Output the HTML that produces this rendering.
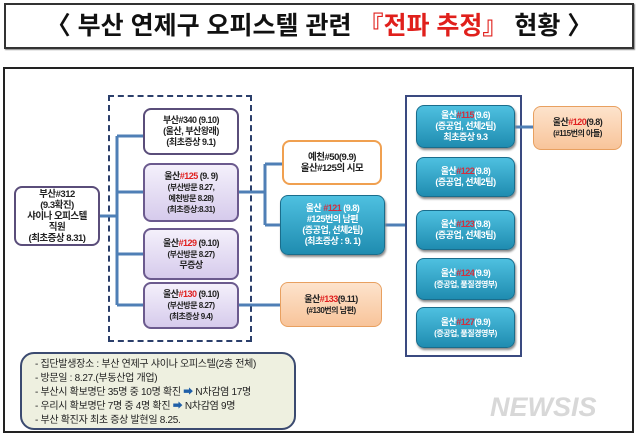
<!DOCTYPE html>
<html><head><meta charset="utf-8"><style>
*{margin:0;padding:0;box-sizing:border-box}
body{width:640px;height:435px;background:#fff;position:relative;overflow:hidden;font-family:"Liberation Sans","Noto Sans CJK KR","NanumGothic",sans-serif;}
.a{position:absolute}
.box{position:absolute;display:flex;justify-content:center;align-items:center;text-align:center;font-size:9px;line-height:11px;font-weight:bold;border-radius:8px;letter-spacing:-0.5px;white-space:nowrap}
.w{background:#fff;border:2px solid #5a4d7a;color:#222}
.p{background:linear-gradient(#f4f0fb,#d6cbec);border:2px solid #6b5a8e;color:#222}
.t{background:linear-gradient(#4ec0e0,#1f8cb0);border:1px solid #1a6d8c;color:#fff;box-shadow:1px 2px 2px #888}
.o{background:linear-gradient(#fde3cc,#f8c49a);border:1px solid #e8a060;color:#222}
.ow{background:#fff;border:2px solid #f0a050;color:#222}
.r{color:#e02020}
.tr{color:#d03040}
.s{font-size:8px}
</style></head><body>
<div class="a" style="left:4px;top:3px;width:630px;height:46px;border:2px solid #333;box-shadow:1px 1px 1px #888;font-size:25px;font-weight:bold;text-align:center;line-height:42px;color:#111;white-space:nowrap">〈 부산 연제구 오피스텔 관련 <span style="color:#e0201c">『전파 추정』</span> 현황 〉</div>
<div class="a" style="left:3px;top:67px;width:631px;height:366px;border:2px solid #222"></div>
<div class="a" style="left:108px;top:95px;width:144px;height:247px;border:2px dashed #2b3f6b"></div>
<div class="a" style="left:405px;top:95px;width:117px;height:262px;border:2px solid #3a4a80"></div>
<svg class="a" style="left:0;top:0" width="640" height="435">
<g stroke="#4f7fb6" stroke-width="3" fill="none">
<line x1="100" y1="216" x2="117" y2="216"/>
<line x1="117" y1="136" x2="117" y2="305"/>
<line x1="117" y1="136" x2="143" y2="136"/>
<line x1="117" y1="192" x2="143" y2="192"/>
<line x1="117" y1="254" x2="143" y2="254"/>
<line x1="117" y1="305" x2="143" y2="305"/>
<line x1="239" y1="192" x2="265" y2="192"/>
<line x1="265" y1="164" x2="265" y2="225"/>
<line x1="265" y1="164" x2="282" y2="164"/>
<line x1="265" y1="225" x2="280" y2="225"/>
<line x1="385" y1="225" x2="405" y2="225"/>
<line x1="239" y1="305" x2="280" y2="305"/>
<line x1="515" y1="127" x2="533" y2="127"/>
</g></svg>
<div class="box w" style="left:14px;top:186px;width:86px;height:60px;font-size:9.5px"><div>부산#312<br>(9.3확진)<br>샤이나 오피스텔<br>직원<br>(최초증상 8.31)</div></div>
<div class="box w" style="left:143px;top:108px;width:96px;height:47px"><div>부산#340 (9.10)<br>(울산, 부산왕래)<br>(최초증상 9.1)</div></div>
<div class="box p" style="left:143px;top:163px;width:96px;height:59px"><div>울산<span class="r">#125</span> (9. 9)<br><span class="s">(부산방문 8.27,<br>예천방문 8.28)<br>(최초증상:8.31)</span></div></div>
<div class="box p" style="left:143px;top:228px;width:96px;height:52px"><div>울산<span class="r">#129</span> (9.10)<br><span class="s">(부산방문 8.27)</span><br>무증상</div></div>
<div class="box p" style="left:143px;top:282px;width:96px;height:47px"><div>울산<span class="r">#130</span> (9.10)<br><span class="s">(부산방문 8.27)<br>(최초증상 9.4)</span></div></div>
<div class="box ow" style="left:282px;top:140px;width:100px;height:45px;font-size:9.5px"><div>예천#50(9.9)<br>울산#125의 시모</div></div>
<div class="box t" style="left:280px;top:195px;width:105px;height:60px"><div>울산 <span class="tr">#121</span> (9.8)<br>#125번의 남편<br>(증공업, 선체2팀)<br>(최초증상 : 9. 1)</div></div>
<div class="box o" style="left:280px;top:282px;width:102px;height:45px"><div>울산<span class="r">#133</span>(9.11)<br><span class="s">(#130번의 남편)</span></div></div>
<div class="box t" style="left:416px;top:105px;width:99px;height:43px"><div>울산<span class="tr">#115</span>(9.6)<br>(증공업, 선체2팀)<br>최초증상 9.3</div></div>
<div class="box t" style="left:416px;top:157px;width:99px;height:40px"><div>울산<span class="tr">#122</span>(9.8)<br>(증공업, 선체2팀)</div></div>
<div class="box t" style="left:416px;top:210px;width:99px;height:40px"><div>울산<span class="tr">#123</span>(9.8)<br>(증공업, 선체3팀)</div></div>
<div class="box t" style="left:416px;top:258px;width:99px;height:42px"><div>울산<span class="tr">#124</span>(9.9)<br><span class="s">(증공업, 품질경영부)</span></div></div>
<div class="box t" style="left:416px;top:307px;width:99px;height:41px"><div>울산<span class="tr">#127</span>(9.9)<br><span class="s">(증공업, 품질경영부)</span></div></div>
<div class="box o" style="left:533px;top:106px;width:89px;height:44px"><div>울산<span class="r">#120</span>(9.8)<br><span class="s">(#115번의 아들)</span></div></div>
<div class="a" style="left:20px;top:352px;width:276px;height:78px;background:#eef0e0;border:2px solid #3b4a70;border-radius:14px;font-size:10px;line-height:14px;padding:4px 0 0 13px;color:#222;letter-spacing:-0.3px;white-space:nowrap">
- 집단발생장소 : 부산 연제구 샤이나 오피스텔(2층 전체)<br>
- 방문일 : 8.27.(부동산업 개업)<br>
- 부산시 확보명단 35명 중 10명 확진 <span style="color:#1f5fa8">➡</span> N차감염 17명<br>
- 우리시 확보명단 7명 중 4명 확진 <span style="color:#1f5fa8">➡</span> N차감염 9명<br>
- 부산 확진자 최초 증상 발현일 8.25.</div>
<div class="a" style="left:490px;top:392px;font-size:27px;font-weight:bold;font-style:italic;color:#d8d8d8">NEWSIS</div>
</body></html>
